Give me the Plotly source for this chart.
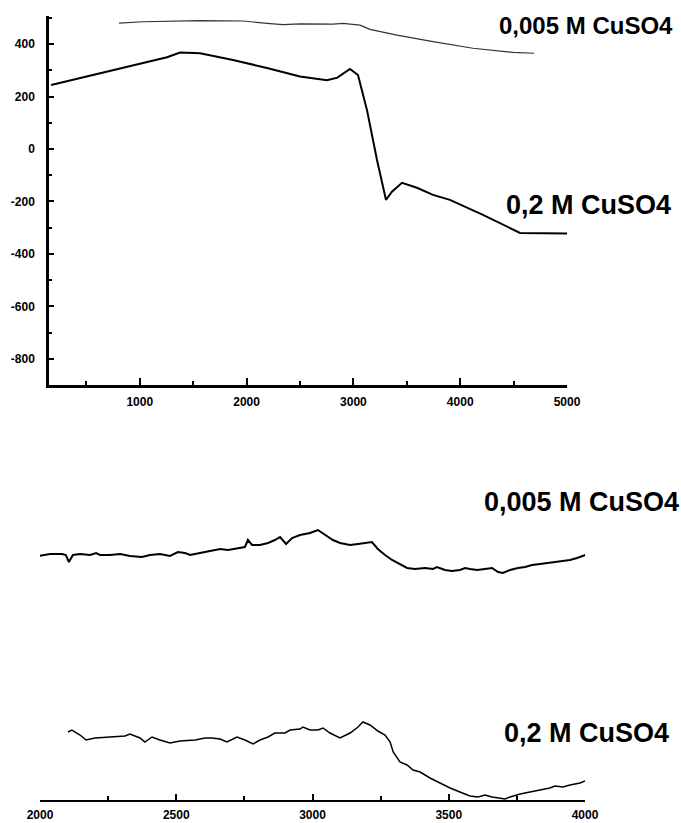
import plotly.graph_objects as go

# ---------------- Top panel data ----------------
top_low_x = [805, 1030, 1564, 1966, 2191, 2341, 2500, 2809, 2903, 3062, 3155, 3408, 3745, 4120, 4494, 4691]
top_low_y = [480, 485, 489, 488, 479, 474, 477, 476, 479, 472, 456, 434, 409, 384, 368, 365]

top_high_x = [170, 440, 627, 936, 1255, 1377, 1564, 1873, 2191, 2500, 2753, 2850, 2968, 3043,
              3127, 3221, 3305, 3361, 3455, 3595, 3745, 3904, 4213, 4560, 5000]
top_high_y = [244, 270, 290, 320, 350, 368, 365, 339, 309, 276, 262, 272, 305, 282,
              149, -42, -194, -163, -129, -148, -175, -194, -251, -320, -322]

# ---------------- Bottom panel data (arbitrary units) ----------------
bot_low_x = [1993, 2037, 2081, 2095, 2106, 2121, 2147, 2184, 2206, 2220, 2257, 2294, 2330, 2374,
             2404, 2440, 2477, 2506, 2532, 2551, 2587, 2624, 2661, 2690, 2723, 2752, 2763, 2778,
             2807, 2837, 2862, 2881, 2903, 2925, 2954, 2991, 3020, 3046, 3075, 3101, 3138, 3167,
             3193, 3218, 3240, 3266, 3292, 3321, 3347, 3376, 3413, 3442, 3457, 3486, 3512, 3541,
             3560, 3578, 3604, 3633, 3659, 3681, 3699, 3725, 3754, 3780, 3806, 3835, 3861, 3890,
             3916, 3945, 3971, 4011]
bot_low_y = [244, 246, 246, 245, 238, 245, 246, 245, 247, 245, 245, 246, 244, 243,
             245, 246, 244, 248, 247, 245, 247, 249, 251, 250, 252, 253, 260, 255,
             255, 257, 260, 263, 256, 262, 265, 267, 270, 265, 260, 257, 255, 256,
             257, 258, 251, 245, 240, 236, 232, 231, 232, 231, 233, 230, 229, 230,
             232, 231, 230, 231, 232, 228, 227, 230, 232, 233, 235, 236, 237, 238,
             239, 240, 242, 246]

bot_high_x = [2103, 2117, 2147, 2169, 2202, 2257, 2312, 2330, 2367, 2385, 2411, 2440, 2477, 2514,
              2569, 2606, 2631, 2661, 2686, 2723, 2752, 2782, 2807, 2837, 2862, 2899, 2918, 2954,
              2965, 2991, 3020, 3039, 3064, 3101, 3138, 3167, 3185, 3211, 3240, 3266, 3285, 3296,
              3321, 3347, 3369, 3395, 3431, 3468, 3505, 3541, 3578, 3607, 3633, 3659, 3688, 3707,
              3725, 3762, 3798, 3835, 3871, 3890, 3919, 3945, 3982, 4000]
bot_high_y = [68, 70, 65, 60, 62, 63, 64, 66, 62, 58, 63, 60, 57, 59,
              60, 62, 62, 61, 58, 63, 60, 56, 60, 63, 67, 67, 70, 71,
              73, 70, 70, 72, 67, 62, 67, 73, 78, 75, 69, 65, 58, 48,
              38, 35, 30, 28, 22, 17, 12, 8, 4, 3, 5, 3, 2, 1,
              3, 6, 8, 10, 12, 14, 13, 15, 17, 19]

top_yticks = [-800, -600, -400, -200, 0, 200, 400]
top_xticks = [1000, 2000, 3000, 4000, 5000]
bot_xticks = [2000, 2500, 3000, 3500, 4000]

labels = ["0,005 M CuSO4", "0,2 M CuSO4"]

W, H = 681, 823

fig = go.Figure()
fig.add_trace(go.Scatter(x=top_low_x, y=top_low_y, mode="lines",
                         line=dict(color="#333333", width=1.2), xaxis="x", yaxis="y"))
fig.add_trace(go.Scatter(x=top_high_x, y=top_high_y, mode="lines",
                         line=dict(color="black", width=2), xaxis="x", yaxis="y"))
fig.add_trace(go.Scatter(x=bot_low_x, y=bot_low_y, mode="lines",
                         line=dict(color="black", width=2), xaxis="x2", yaxis="y2"))
fig.add_trace(go.Scatter(x=bot_high_x, y=bot_high_y, mode="lines",
                         line=dict(color="black", width=1.5), xaxis="x2", yaxis="y2"))

tickfont = dict(family="Liberation Sans", size=12, color="black", weight="bold")

fig.update_layout(
    width=W, height=H, margin=dict(l=0, r=0, t=0, b=0, autoexpand=False),
    paper_bgcolor="white", plot_bgcolor="white", showlegend=False,
    xaxis=dict(domain=[49 / W, 567 / W], anchor="y", range=[150, 5000], automargin=False,
               tickvals=top_xticks, ticktext=[str(v) for v in top_xticks],
               ticks="inside", ticklen=7, tickwidth=2, tickcolor="black",
               minor=dict(dtick=500, tick0=0, ticks="inside", ticklen=4, tickwidth=2, tickcolor="black"),
               showline=True, linecolor="black", linewidth=2.5, showgrid=False, zeroline=False,
               tickfont=tickfont, ticklabelstandoff=4),
    yaxis=dict(domain=[1 - 385 / H, 1 - 16 / H], anchor="x", range=[-900, 507], automargin=False,
               tickvals=top_yticks, ticktext=[str(v) for v in top_yticks],
               ticks="inside", ticklen=5, tickwidth=2, tickcolor="black",
               minor=dict(dtick=100, tick0=0, ticks="inside", ticklen=3, tickwidth=2, tickcolor="black"),
               showline=True, linecolor="black", linewidth=2.5, showgrid=False, zeroline=False,
               tickfont=tickfont, ticklabelstandoff=9),
    xaxis2=dict(domain=[40 / W, 585 / W], anchor="y2", range=[2000, 4000], automargin=False,
                tickvals=bot_xticks, ticktext=[str(v) for v in bot_xticks],
                ticks="inside", ticklen=6, tickwidth=1.5, tickcolor="black",
                minor=dict(dtick=250, tick0=0, ticks="inside", ticklen=4, tickwidth=1.5, tickcolor="black"),
                showline=True, linecolor="black", linewidth=1.5, showgrid=False, zeroline=False,
                tickfont=dict(family="Liberation Sans", size=12, color="black", weight="bold"),
                ticklabelstandoff=3),
    yaxis2=dict(domain=[1 - 800 / H, 1 - 500 / H], anchor="x2", range=[0, 300], automargin=False,
                visible=False, showgrid=False, zeroline=False),
)

afont = dict(family="Liberation Sans", color="black", weight="bold")
ann = [
    (586, 25, labels[0], 24),
    (588, 205, labels[1], 27),
    (581, 502, labels[0], 27),
    (586, 733, labels[1], 27),
]
for cx, cy, txt, sz in ann:
    fig.add_annotation(x=cx / W, y=1 - cy / H, xref="paper", yref="paper", text=txt,
                       showarrow=False, xanchor="center", yanchor="middle",
                       font=dict(size=sz, **afont))

fig.write_html("out.html", config={"displayModeBar": False},
               post_script="document.body.style.margin='0';document.body.style.overflow='hidden';")
